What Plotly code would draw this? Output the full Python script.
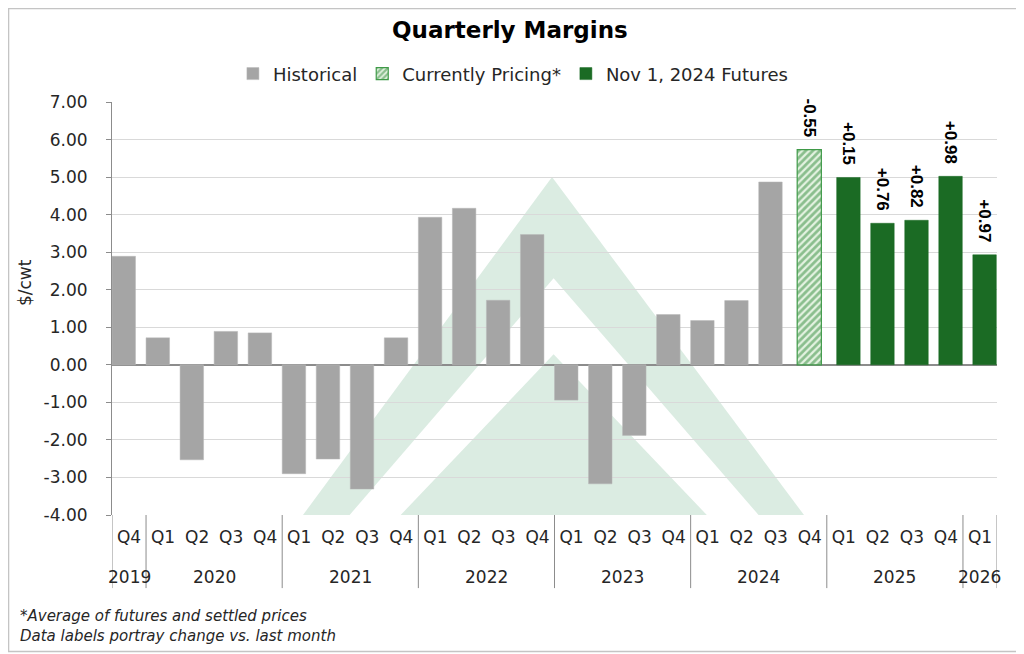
import plotly.graph_objects as go

# ---- data ----
years = ["2019", "2020", "2020", "2020", "2020", "2021", "2021", "2021", "2021",
         "2022", "2022", "2022", "2022", "2023", "2023", "2023", "2023",
         "2024", "2024", "2024", "2024", "2025", "2025", "2025", "2025", "2026"]
quarters = ["Q4", "Q1", "Q2", "Q3", "Q4", "Q1", "Q2", "Q3", "Q4",
            "Q1", "Q2", "Q3", "Q4", "Q1", "Q2", "Q3", "Q4",
            "Q1", "Q2", "Q3", "Q4", "Q1", "Q2", "Q3", "Q4", "Q1"]

historical = [2.89, 0.72, -2.53, 0.89, 0.85, -2.90, -2.51, -3.31, 0.72,
              3.93, 4.17, 1.72, 3.47, -0.94, -3.17, -1.88, 1.34,
              1.18, 1.71, 4.87]
pricing = [5.73]
pricing_labels = ["-0.55"]
futures = [4.99, 3.77, 3.85, 5.02, 2.93]
futures_labels = ["+0.15", "+0.76", "+0.82", "+0.98", "+0.97"]

y_tick_vals = [-4, -3, -2, -1, 0, 1, 2, 3, 4, 5, 6, 7]
y_tick_text = ["-4.00", "-3.00", "-2.00", "-1.00", "0.00", "1.00", "2.00",
               "3.00", "4.00", "5.00", "6.00", "7.00"]

# unique category keys (year + quarter), quarter shown as tick text
cats = [y + " " + q for y, q in zip(years, quarters)]
n_h = len(historical)
n_p = len(pricing)

FONT = "DejaVu Sans"
GRAY_TXT = "#262626"
AXIS_GRAY = "#8c8c8c"
LABEL_FONT = dict(family="Liberation Sans, Arial", size=17, color="#000000", weight="bold")

fig = go.Figure()

fig.add_trace(go.Bar(
    name="Historical",
    x=cats[:n_h], y=historical,
    marker=dict(color="#a5a5a5", line=dict(color="#b8b8b8", width=0.5)),
    width=0.69, offset=-0.5,
))

fig.add_trace(go.Bar(
    name="Currently Pricing*",
    x=cats[n_h:n_h + n_p], y=pricing,
    text=pricing_labels, texttemplate="%{text}\u00a0\u00a0",
    textposition="outside", textangle=90, constraintext="none", cliponaxis=False,
    textfont=LABEL_FONT,
    marker=dict(color="#ffffff",
                pattern=dict(shape="/", fgcolor="#2f8a3a", bgcolor="#e4f2e1", size=5, solidity=0.55),
                line=dict(color="#3f9a48", width=1.2)),
    width=0.71, offset=-0.37,
))

fig.add_trace(go.Bar(
    name="Nov 1, 2024 Futures",
    x=cats[n_h + n_p:], y=futures,
    text=futures_labels, texttemplate="%{text}\u00a0\u00a0",
    textposition="outside", textangle=90, constraintext="none", cliponaxis=False,
    textfont=LABEL_FONT,
    marker=dict(color="#1b6b24", line=dict(color="#1b6b24", width=0.5)),
    width=0.69, offset=-0.21,
))

# ---- watermark chevron (paper coords of plot area) ----
WM = "#dbece2"
shapes = [
    dict(type="path", xref="paper", yref="paper", layer="below",
         path="M 0.2158 0 L 0.4972 0.8184 L 0.7819 0 Z",
         fillcolor=WM, line=dict(width=0)),
    dict(type="path", xref="paper", yref="paper", layer="below",
         path="M 0.2685 0 L 0.4990 0.5731 L 0.7306 0 Z",
         fillcolor="#ffffff", line=dict(width=0)),
    dict(type="path", xref="paper", yref="paper", layer="below",
         path="M 0.3262 0 L 0.4990 0.3891 L 0.6721 0 Z",
         fillcolor=WM, line=dict(width=0)),
    # outer border of the chart
    dict(type="rect", xref="paper", yref="paper", layer="above",
         x0=-0.1169, x1=1.0283, y0=-0.3305, y1=1.2264,
         line=dict(color="#c4c4c4", width=1.5), fillcolor="rgba(0,0,0,0)"),
]

# year-group dividers and year labels
annotations = []
starts = [0] + [i for i in range(1, len(years)) if years[i] != years[i - 1]]
ends = starts[1:] + [len(years)]
for s, e in zip(starts, ends):
    annotations.append(dict(
        text=years[s], xref="x", yref="paper", x=(s + e - 1) / 2, y=-0.150,
        xanchor="center", yanchor="middle", showarrow=False,
        font=dict(family=FONT, size=17, color=GRAY_TXT)))
for b in starts + [len(years)]:
    shapes.append(dict(type="line", xref="x", yref="paper", x0=b - 0.5, x1=b - 0.5,
                       y0=0, y1=-0.177, line=dict(color=AXIS_GRAY, width=1)))

annotations += [
    # y-axis title
    dict(text="$/cwt", xref="paper", yref="paper", x=-0.0983, y=0.5617,
         xanchor="center", yanchor="middle", textangle=-90, showarrow=False,
         font=dict(family=FONT, size=17, color=GRAY_TXT)),
    dict(text="<i>*Average of futures and settled prices</i>", xref="paper", yref="paper",
         x=-0.1062, y=-0.2446, xanchor="left", yanchor="middle", showarrow=False,
         font=dict(family=FONT, size=15, color=GRAY_TXT)),
    dict(text="<i>Data labels portray change vs. last month</i>", xref="paper", yref="paper",
         x=-0.1062, y=-0.293, xanchor="left", yanchor="middle", showarrow=False,
         font=dict(family=FONT, size=15, color=GRAY_TXT)),
]

fig.update_layout(
    width=1016, height=646,
    margin=dict(l=104, r=27, t=94, b=139),
    paper_bgcolor="#ffffff", plot_bgcolor="#ffffff",
    font=dict(family=FONT, size=17, color=GRAY_TXT),
    barmode="overlay",
    title=dict(text="<b>Quarterly Margins</b>", x=0.494, xanchor="center",
               y=0.966, yanchor="middle",
               font=dict(family=FONT, size=23, color="#000000")),
    legend=dict(orientation="h", x=0.453, xanchor="center", y=1.068, yanchor="middle",
                font=dict(family=FONT, size=18, color=GRAY_TXT),
                traceorder="normal"),
    shapes=shapes,
    annotations=annotations,
)

fig.update_yaxes(
    range=[-4, 7], tickmode="array", tickvals=y_tick_vals, ticktext=y_tick_text,
    showgrid=True, gridcolor="#d9d9d9", gridwidth=1,
    showline=True, linecolor=AXIS_GRAY, linewidth=1,
    ticks="outside", ticklen=5, tickcolor=AXIS_GRAY,
    ticklabelstandoff=15, automargin=False,
    zeroline=True, zerolinecolor=AXIS_GRAY, zerolinewidth=1.5,
    tickfont=dict(family=FONT, size=17, color=GRAY_TXT),
)

fig.update_xaxes(
    type="category", categoryorder="array", categoryarray=cats,
    range=[-0.5, len(cats) - 0.5],
    tickmode="array", tickvals=cats, ticktext=quarters,
    ticklabelstandoff=10, automargin=False,
    showgrid=False, showline=False, zeroline=False, ticks="",
    tickfont=dict(family=FONT, size=17, color=GRAY_TXT),
)

fig.write_html("out.html")
